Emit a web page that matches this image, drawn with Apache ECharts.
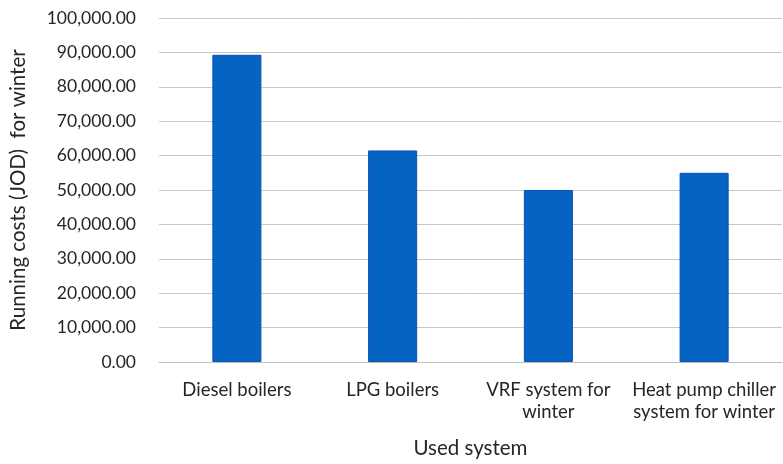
<!DOCTYPE html>
<html><head><meta charset="utf-8">
<script src="https://cdn.jsdelivr.net/npm/echarts@6/dist/echarts.min.js"></script>
<style>html,body{margin:0;padding:0;background:#fff;overflow:hidden}#c{width:783px;height:464px}</style>
</head><body><div id="c"></div>
<script>
const categories = ['Diesel boilers', 'LPG boilers', 'VRF system for\nwinter', 'Heat pump chiller\nsystem for winter'];
const values = [89300, 61500, 50000, 55000];
const yTicks = {min: 0, max: 100000, interval: 10000};
const yName = 'Running costs (JOD)  for winter';
const xName = 'Used system';

const font = 'Lato, "Open Sans", sans-serif';
const chart = echarts.init(document.getElementById('c'), null, {renderer: 'canvas', width: 783, height: 464});
chart.setOption({
  animation: false,
  grid: {left: 153, right: 1, top: 18, bottom: 98, containLabel: false},
  xAxis: {
    type: 'category', data: categories,
    name: xName, nameLocation: 'middle', nameGap: 76,
    nameTextStyle: {fontFamily: font, fontSize: 20.5, color: '#262626'},
    axisLine: {lineStyle: {color: '#bfbfbf', width: 1}},
    axisTick: {show: false},
    axisLabel: {fontFamily: font, fontSize: 18.5, color: '#262626', margin: 17, lineHeight: 22, interval: 0}
  },
  yAxis: {
    type: 'value', min: yTicks.min, max: yTicks.max, interval: yTicks.interval,
    name: yName, nameLocation: 'middle', nameGap: 130, nameRotate: 90,
    nameTextStyle: {fontFamily: font, fontSize: 20.5, color: '#262626'},
    axisLine: {show: false}, axisTick: {show: false},
    splitLine: {lineStyle: {color: '#c8c8c8', width: 1, type: 'solid'}},
    axisLabel: {fontFamily: font, fontSize: 17.5, color: '#262626', margin: 23,
      formatter: v => v.toLocaleString('en-US', {minimumFractionDigits: 2, maximumFractionDigits: 2})}
  },
  series: [{
    type: 'bar', data: values, barWidth: '31.5%',
    itemStyle: {color: '#0563c1', borderColor: '#0a52b8', borderWidth: 1}
  }]
});
</script></body></html>
